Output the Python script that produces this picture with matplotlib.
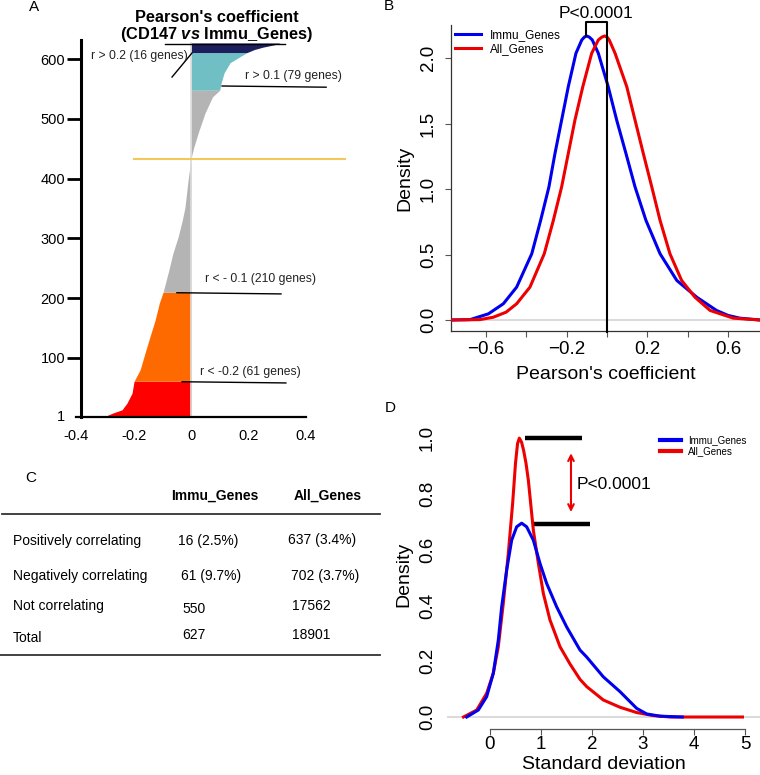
import matplotlib
matplotlib.use("Agg")
import matplotlib.pyplot as plt
from matplotlib.lines import Line2D

plt.rcParams['font.family'] = ['Liberation Sans', 'DejaVu Sans']
plt.rcParams['mathtext.fontset'] = 'custom'
plt.rcParams['mathtext.it'] = 'Liberation Sans:italic:bold'
plt.rcParams['axes.unicode_minus'] = True

# ---- panel A: sorted Pearson r of immune genes (rank -> r) ----
rank_a = [1, 4, 8, 13, 24, 41, 61, 80, 108, 135, 163, 192, 210, 247, 275, 302,
          331, 352, 398, 434, 453, 481, 510, 537, 548, 557, 577, 594, 604, 611,
          616, 620, 624, 627]
r_a = [-0.29, -0.29, -0.27, -0.24, -0.223, -0.205, -0.198, -0.177, -0.16, -0.143,
       -0.125, -0.11, -0.097, -0.077, -0.063, -0.045, -0.03, -0.021, -0.01, 0.0,
       0.01, 0.028, 0.049, 0.075, 0.1, 0.103, 0.115, 0.136, 0.17, 0.195,
       0.22, 0.25, 0.29, 0.31]
seg_bounds = [(1, 61), (61, 210), (210, 548), (548, 611), (611, 627)]
seg_colors = ["#ff0000", "#ff6a00", "#b4b4b4", "#70bfc4", "#1c1f5e"]
ytick_a = [100, 200, 300, 400, 500, 600]
xtick_a = [-0.4, -0.2, 0, 0.2, 0.4]
xtick_a_lab = ["-0.4", "-0.2", "0", "0.2", "0.4"]

# ---- panel B: density of Pearson's coefficient ----
immu_r_x = [-0.774, -0.679, -0.588, -0.514, -0.448, -0.373, -0.329, -0.288, -0.258,
            -0.225, -0.192, -0.154, -0.125, -0.112, -0.101, -0.088, -0.073, -0.043,
            0.006, 0.048, 0.094, 0.139, 0.193, 0.263, 0.346, 0.445, 0.543, 0.60,
            0.659, 0.759]
immu_r_y = [0.0, 0.003, 0.047, 0.124, 0.251, 0.506, 0.761, 1.016, 1.271,
            1.526, 1.781, 2.036, 2.138, 2.16, 2.168, 2.16, 2.138, 2.036,
            1.781, 1.526, 1.271, 1.016, 0.761, 0.506, 0.302, 0.174, 0.073, 0.035,
            0.014, 0.0]
all_r_x = [-0.774, -0.63, -0.564, -0.5, -0.448, -0.382, -0.311, -0.266, -0.225,
           -0.192, -0.159, -0.120, -0.076, -0.043, -0.025, -0.012, 0.0, 0.011,
           0.040, 0.098, 0.139, 0.180, 0.222, 0.263, 0.312, 0.370, 0.436, 0.511,
           0.626, 0.759]
all_r_y = [0.0, 0.003, 0.021, 0.06, 0.124, 0.251, 0.506, 0.761, 1.016,
           1.271, 1.526, 1.781, 2.036, 2.138, 2.16, 2.168, 2.16, 2.138,
           2.036, 1.781, 1.526, 1.271, 1.016, 0.761, 0.506, 0.302, 0.174, 0.073,
           0.014, 0.0]

# ---- panel D: density of standard deviation ----
immu_sd_x = [-0.457, -0.229, -0.065, 0.065, 0.163, 0.229, 0.327, 0.425, 0.523,
             0.621, 0.719, 0.85, 0.98, 1.111, 1.307, 1.503, 1.765, 1.896, 2.222,
             2.549, 2.712, 2.876, 3.072, 3.333, 3.77]
immu_sd_y = [0.0, 0.025, 0.073, 0.157, 0.276, 0.395, 0.527, 0.634, 0.682,
             0.695, 0.682, 0.634, 0.551, 0.479, 0.395, 0.323, 0.24, 0.215, 0.144,
             0.091, 0.061, 0.031, 0.011, 0.003, 0.0]
all_sd_x = [-0.52, -0.26, -0.065, 0.065, 0.163, 0.261, 0.359, 0.444, 0.50, 0.54,
            0.575, 0.62, 0.66, 0.706, 0.752, 0.85, 0.948, 1.046, 1.176, 1.373,
            1.569, 1.765, 1.896, 2.222, 2.549, 2.876, 3.203, 3.53, 4.95]
all_sd_y = [0.0, 0.025, 0.085, 0.157, 0.252, 0.408, 0.587, 0.766, 0.91, 0.98,
            1.0, 0.985, 0.955, 0.91, 0.849, 0.67, 0.551, 0.443, 0.348, 0.252,
            0.19, 0.135, 0.109, 0.061, 0.035, 0.016, 0.005, 0.0, 0.0]

# ---- panel C: table ----
col_heads = ["Immu_Genes", "All_Genes"]
row_names = ["Positively correlating", "Negatively correlating", "Not correlating", "Total"]
immu_vals = ["16 (2.5%)", "61 (9.7%)", "550", "627"]
all_vals = ["637 (3.4%)", "702 (3.7%)", "17562", "18901"]

W, H = 760, 775
fig = plt.figure(figsize=(W / 100, H / 100), dpi=100)


def px_axes(l, t, r, b):
    return fig.add_axes([l / W, 1 - b / H, (r - l) / W, (b - t) / H])


def fx(px):
    return px / W


def fy(py):
    return 1 - py / H


# ================= A =================
axA = px_axes(76, 40, 306, 417)
for (lo, hi), col in zip(seg_bounds, seg_colors):
    ys = [y for y in rank_a if lo <= y <= hi]
    xs = [x for x, y in zip(r_a, rank_a) if lo <= y <= hi]
    axA.fill_betweenx(ys, 0, xs, color=col, lw=0)
axA.plot([0, 0], [1, 627], color="#dcdcdc", lw=1.2)
axA.set_xlim(-0.4, 0.4)
axA.set_ylim(1, 632)
for s in ["top", "right"]:
    axA.spines[s].set_visible(False)
axA.spines["left"].set_position(("data", -0.384))
axA.spines["left"].set_linewidth(2.2)
axA.spines["bottom"].set_linewidth(1.6)
axA.set_yticks(ytick_a)
axA.tick_params(axis="y", length=10, width=2, labelsize=10.5, pad=1)
axA.set_xticks(xtick_a)
axA.set_xticklabels(xtick_a_lab)
axA.tick_params(axis="x", length=0, labelsize=10.5, pad=9)
axA.text(-0.438, 1, "1", ha="right", va="center", fontsize=10.5, clip_on=False)

lab_kw = dict(fontsize=8.7, color="#222222")
ln_kw = dict(color="black", lw=1, clip_on=False)
axA.plot([-0.09, 0.327], [625, 625], **ln_kw)
axA.plot([-0.066, 0.003], [570, 610], **ln_kw)
axA.text(-0.01, 605, "r > 0.2 (16 genes)", ha="right", va="center", **lab_kw)
axA.plot([0.108, 0.47], [555, 553], **ln_kw)
axA.text(0.525, 571, "r > 0.1 (79 genes)", ha="right", va="center", **lab_kw)
axA.plot([-0.2, 0.536], [433, 433], color="#f2c85b", lw=1.5, clip_on=False)
axA.plot([-0.049, 0.313], [209, 207], **ln_kw)
axA.text(0.05, 232, "r < - 0.1 (210 genes)", ha="left", va="center", **lab_kw)
axA.plot([-0.031, 0.33], [60, 58], **ln_kw)
axA.text(0.032, 76, "r < -0.2 (61 genes)", ha="left", va="center", **lab_kw)

fig.text(fx(217), fy(17), "Pearson's coefficient", ha="center", va="center",
         fontsize=11.8, fontweight="bold")
fig.text(fx(217), fy(35), r"(CD147 $\mathit{vs}$ Immu_Genes)", ha="center",
         va="center", fontsize=11.8, fontweight="bold")

# ================= B =================
axB = px_axes(451, 25, 760, 331)
axB.axhline(0, color="#d4d4d4", lw=1.2, zorder=1)
axB.plot(immu_r_x, immu_r_y, color="#0000ee", lw=2.2, label="Immu_Genes", zorder=3)
axB.plot(all_r_x, all_r_y, color="#ee0000", lw=2.2, label="All_Genes", zorder=3)
axB.set_xlim(-0.7735, 0.7586)
axB.set_ylim(-0.084, 2.252)
for s in ["top", "right"]:
    axB.spines[s].set_visible(False)
for s in ["left", "bottom"]:
    axB.spines[s].set_linewidth(0.9)
    axB.spines[s].set_color("#333333")
axB.set_xticks([-0.6, -0.2, 0.2, 0.6])
axB.set_xticks([-0.4, 0.0, 0.4], minor=True)
axB.tick_params(axis="x", which="both", length=4, width=0.8, color="#555555")
axB.tick_params(axis="x", labelsize=13.5, pad=3)
axB.set_yticks([0, 0.5, 1.0, 1.5, 2.0])
axB.set_yticklabels(["0.0", "0.5", "1.0", "1.5", "2.0"])
axB.tick_params(axis="y", length=4, width=0.8, color="#555555", labelsize=13.5,
                pad=6, labelrotation=90)
for t in axB.get_yticklabels():
    t.set_va("center")
axB.set_xlabel("Pearson's coefficient", fontsize=14, labelpad=6)
axB.set_ylabel("Density", fontsize=14, labelpad=5)
axB.plot([-0.104, -0.104, 0.0, 0.0], [2.168, 2.273, 2.273, -0.088],
         color="black", lw=1.5, clip_on=False, zorder=4)
fig.text(fx(596), fy(13), "P<0.0001", ha="center", va="center", fontsize=12.5)
axB.legend(loc="upper left", bbox_to_anchor=(fx(455), fy(29)),
           bbox_transform=fig.transFigure, frameon=False, fontsize=8.5,
           handlelength=2.2, handletextpad=0.75, labelspacing=0.2,
           borderaxespad=0, borderpad=0)

# ================= D =================
axD = px_axes(447, 420, 760, 729)
axD.axhline(0, color="#d4d4d4", lw=1.2, zorder=1)
axD.plot(all_sd_x, all_sd_y, color="#ee0000", lw=2.2, label="All_Genes", zorder=3)
axD.plot(immu_sd_x, immu_sd_y, color="#0000ee", lw=2.2, label="Immu_Genes", zorder=3)
axD.set_xlim(-0.843, 5.294)
axD.set_ylim(-0.043, 1.065)
for s in ["top", "right", "left"]:
    axD.spines[s].set_visible(False)
axD.spines["bottom"].set_bounds(0, 5)
axD.spines["bottom"].set_linewidth(0.9)
axD.spines["bottom"].set_color("#555555")
axD.set_xticks([0, 1, 2, 3, 4, 5])
axD.tick_params(axis="x", length=4, width=0.8, color="#555555", labelsize=13.5, pad=1)
axD.set_yticks([0, 0.2, 0.4, 0.6, 0.8, 1.0])
axD.set_yticklabels(["0.0", "0.2", "0.4", "0.6", "0.8", "1.0"])
axD.tick_params(axis="y", length=0, labelsize=13.5, pad=8, labelrotation=90)
for t in axD.get_yticklabels():
    t.set_va("center")
axD.set_xlabel("Standard deviation", fontsize=14, labelpad=2)
axD.set_ylabel("Density", fontsize=14, labelpad=5)
axD.plot([0.686, 1.804], [0.999, 0.999], color="black", lw=3.2, solid_capstyle="butt")
axD.plot([0.837, 1.96], [0.692, 0.692], color="black", lw=3.2, solid_capstyle="butt")
axD.annotate("", xy=(1.588, 0.735), xytext=(1.588, 0.946),
             arrowprops=dict(arrowstyle="<->", color="#ee0000", lw=1.5,
                             shrinkA=0, shrinkB=0))
axD.text(1.706, 0.832, "P<0.0001", ha="left", va="center", fontsize=12.5)
handles = [Line2D([], [], color="#0000ee", lw=3), Line2D([], [], color="#ee0000", lw=3)]
axD.legend(handles, ["Immu_Genes", "All_Genes"], loc="upper left",
           bbox_to_anchor=(fx(660), fy(435)), bbox_transform=fig.transFigure,
           frameon=False, fontsize=7, handlelength=2.2, handletextpad=0.7,
           labelspacing=0.15, borderaxespad=0, borderpad=0)

# ================= C: table =================
fig.text(fx(215), fy(496), col_heads[0], ha="center", va="center",
         fontsize=10, fontweight="bold")
fig.text(fx(328), fy(496), col_heads[1], ha="center", va="center",
         fontsize=10, fontweight="bold")
fig.add_artist(Line2D([fx(2), fx(380)], [fy(514), fy(514)], color="#333333", lw=1.3))
fig.add_artist(Line2D([fx(0), fx(380)], [fy(655), fy(655)], color="#333333", lw=1.3))
row_y = [541, 576, 606, 638]
immu_y = [541, 576, 609, 635]
immu_x = [178, 181, 182, 182]
all_y = [540, 576, 606, 635]
all_x = [288, 291, 292, 292]
for i, name in enumerate(row_names):
    fig.text(fx(13), fy(row_y[i]), name, ha="left", va="center", fontsize=10)
    fig.text(fx(immu_x[i]), fy(immu_y[i]), immu_vals[i], ha="left", va="center", fontsize=10)
    fig.text(fx(all_x[i]), fy(all_y[i]), all_vals[i], ha="left", va="center", fontsize=10)

# panel letters
for lab, (px, py) in zip("ABCD", [(34, 7), (389, 6), (31, 478), (390, 408)]):
    fig.text(fx(px), fy(py), lab, ha="center", va="center", fontsize=11)

fig.savefig("out.png", dpi=100)
